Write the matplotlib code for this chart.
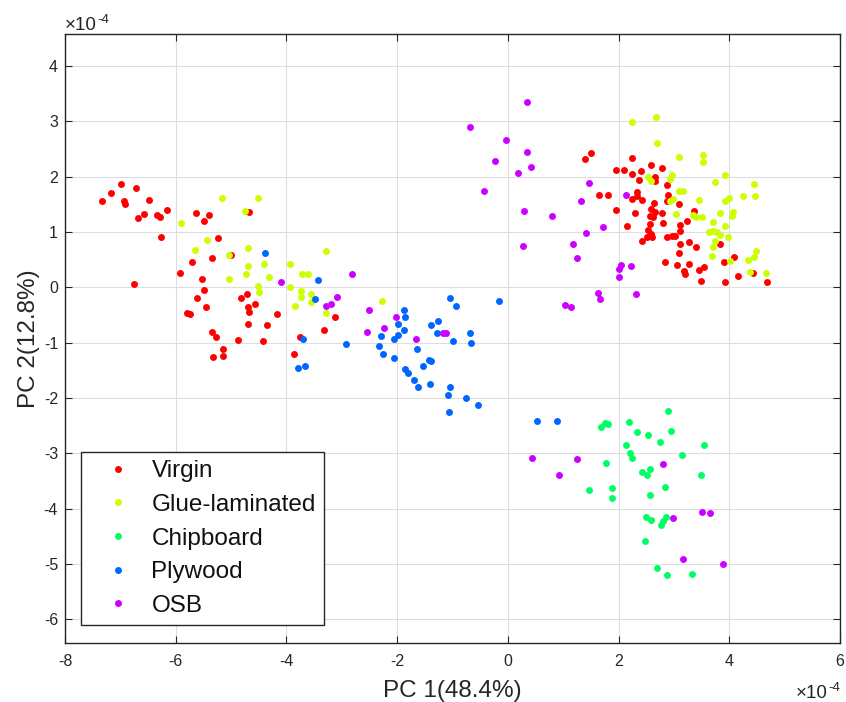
import numpy as np
import matplotlib
matplotlib.use("Agg")
import matplotlib.pyplot as plt

plt.rcParams.update({"font.family": ["Liberation Sans", "DejaVu Sans"],
                     "axes.unicode_minus": False})

# PCA scores, units of 1e-4
virgin_x = [-7.33, -7.17, -6.99, -6.72, -6.93, -6.92, -6.48, -6.69, -6.57, -6.34, -6.28, -6.15,
            -6.27, -5.64, -5.39, -5.49, -4.67, -5.24, -6.75, -5.35, -5.00, -5.71, -5.92, -5.53,
            -5.49, -5.62, -5.45, -5.80, -5.74, -4.82, -4.71, -4.70, -4.67, -4.56, -4.17, -4.70,
            -4.36, -5.35, -5.28, -4.87, -4.42, -5.15, -5.33, -5.15, -3.13, -3.33, -3.76, -3.87,
            1.39, 1.51, 2.24, 1.95, 2.10, 2.25, 2.36, 1.65, 1.80, 1.95, 2.30, 2.15, 2.25, 2.33,
            2.40, 2.58, 2.79, 2.66, 2.65, 2.34, 2.42, 2.64, 2.58, 2.65, 2.57, 2.62, 2.78, 2.87,
            2.90, 2.87, 3.09, 2.57, 2.54, 2.59, 2.42, 2.51, 2.61, 2.81, 3.11, 3.23, 3.11, 3.36,
            2.87, 2.96, 3.02, 3.11, 3.27, 3.39, 3.09, 2.84, 3.05, 3.28, 3.18, 3.20, 3.45, 3.55,
            3.49, 3.83, 3.91, 4.08, 3.92, 4.15, 4.43, 4.69]
virgin_y = [1.56, 1.71, 1.86, 1.80, 1.55, 1.50, 1.58, 1.25, 1.32, 1.31, 1.27, 1.40,
            0.91, 1.34, 1.31, 1.20, 1.35, 0.88, 0.06, 0.52, 0.58, 0.45, 0.25, 0.15,
            -0.05, -0.20, -0.36, -0.46, -0.49, -0.20, -0.13, -0.36, -0.45, -0.31, -0.48, -0.66,
            -0.69, -0.81, -0.90, -0.95, -0.98, -1.11, -1.26, -1.25, -0.54, -0.78, -0.90, -1.21,
            2.31, 2.42, 2.34, 2.11, 2.11, 2.04, 1.94, 1.67, 1.67, 1.40, 1.34, 1.11, 1.59, 1.72,
            2.10, 2.20, 2.15, 1.92, 2.00, 1.64, 1.58, 1.52, 1.41, 1.35, 1.29, 1.26, 1.34, 1.84,
            1.66, 1.55, 1.51, 1.14, 1.03, 0.96, 0.84, 0.90, 0.90, 1.16, 1.13, 1.19, 1.02, 1.37,
            0.91, 0.92, 0.93, 0.78, 0.81, 0.73, 0.61, 0.45, 0.40, 0.42, 0.29, 0.23, 0.31, 0.36,
            0.12, 0.78, 0.45, 0.54, 0.09, 0.21, 0.25, 0.09]

glue_x = [-5.17, -4.52, -4.74, -5.91, -5.44, -5.65, -5.04, -4.70, -4.70, -4.73, -5.04, -4.40,
          -4.32, -4.52, -4.50, -3.94, -3.29, -3.72, -3.61, -3.93, -3.73, -3.73, -3.56, -3.85,
          -3.56, -3.28, -2.27,
          2.24, 2.68, 2.69, 3.10, 3.52, 3.52, 2.54, 2.58, 2.92, 2.96, 3.10, 3.17, 2.93, 2.98,
          3.45, 3.75, 3.92, 4.45, 4.25, 4.46, 3.92, 3.99, 3.83, 4.06, 4.05, 3.03, 3.35, 3.40,
          3.51, 3.71, 3.92, 3.63, 3.71, 3.78, 3.83, 3.98, 3.74, 3.71, 3.69, 4.49, 4.44, 4.34,
          4.01, 4.38, 4.67]
glue_y = [1.61, 1.62, 1.38, 1.16, 0.85, 0.68, 0.59, 0.71, 0.39, 0.23, 0.15, 0.41,
          0.19, 0.02, -0.09, 0.41, 0.66, 0.23, 0.23, 0.00, -0.06, -0.17, -0.12, -0.34,
          -0.27, -0.46, -0.25,
          2.99, 3.07, 2.61, 2.36, 2.38, 2.27, 1.99, 1.92, 1.96, 2.03, 1.73, 1.73, 1.56, 1.59,
          1.57, 1.90, 2.02, 1.86, 1.65, 1.65, 1.55, 1.61, 1.34, 1.36, 1.29, 1.32, 1.31, 1.27,
          1.26, 1.17, 1.10, 1.00, 1.02, 1.00, 0.94, 0.91, 0.84, 0.72, 0.57, 0.66, 0.55, 0.49,
          0.48, 0.28, 0.25]

chip_x = [2.89, 1.69, 1.76, 1.80, 2.18, 2.33, 2.53, 2.74, 2.95, 2.13, 2.20, 2.24, 3.54, 3.14,
          1.78, 2.42, 2.56, 2.51, 3.49, 1.46, 1.89, 1.88, 2.84, 2.56, 2.49, 2.58, 2.86, 2.81,
          2.77, 2.48, 2.69, 2.88, 3.33]
chip_y = [-2.23, -2.52, -2.45, -2.47, -2.44, -2.62, -2.68, -2.79, -2.59, -2.85, -3.00, -3.09,
          -2.86, -3.04, -3.18, -3.34, -3.28, -3.40, -3.40, -3.67, -3.63, -3.81, -3.61, -3.75,
          -4.15, -4.20, -4.15, -4.22, -4.29, -4.59, -5.07, -5.20, -5.19]

ply_x = [-4.39, -3.43, -3.49, -3.70, -3.79, -3.67, -2.92, -1.05, -0.93, -0.16, -1.88, -1.85,
         -1.99, -1.88, -1.99, -2.05, -2.30, -2.33, -2.26, -2.05, -1.39, -1.26, -1.28, -0.99,
         -0.69, -0.67, -1.65, -1.85, -1.80, -1.69, -1.63, -1.53, -1.43, -1.38, -1.41, -1.05,
         -1.08, -1.07, -0.75, -0.54, 0.53, 0.88]
ply_y = [0.61, 0.13, -0.22, -0.94, -1.46, -1.42, -1.03, -0.20, -0.34, -0.25, -0.42, -0.53,
         -0.66, -0.77, -0.86, -0.94, -0.89, -1.06, -1.21, -1.28, -0.69, -0.62, -0.83, -0.98,
         -0.83, -1.00, -1.12, -1.48, -1.55, -1.67, -1.80, -1.43, -1.32, -1.34, -1.75, -1.80,
         -1.94, -2.25, -2.00, -2.12, -2.42, -2.42]

osb_x = [-4.10, -2.81, -3.08, -3.19, -3.29, -2.50, -2.54, -2.23, -2.02, -1.66, -1.18, -1.11,
         0.35, -0.69, -0.04, 0.35, -0.24, 0.41, 0.18, -0.44, 1.46, 1.32, 0.30, 0.80, 1.71,
         1.42, 1.18, 1.25, 0.28, 2.04, 2.01, 2.22, 2.01, 2.32, 1.63, 1.67, 1.03, 1.14, 2.14,
         0.44, 1.25, 0.92, 2.81, 2.98, 3.51, 3.65, 3.16, 3.89]
osb_y = [0.10, 0.24, -0.17, -0.30, -0.34, -0.42, -0.81, -0.73, -0.54, -0.94, -0.82, -0.82,
         3.34, 2.89, 2.66, 2.44, 2.28, 2.17, 2.06, 1.73, 1.89, 1.55, 1.38, 1.29, 1.09,
         0.98, 0.78, 0.52, 0.75, 0.40, 0.32, 0.39, 0.18, -0.12, -0.10, -0.22, -0.32, -0.35, 1.67,
         -3.09, -3.11, -3.40, -3.19, -4.17, -4.06, -4.08, -4.92, -5.01]

groups = ["Virgin", "Glue-laminated", "Chipboard", "Plywood", "OSB"]
xs = [virgin_x, glue_x, chip_x, ply_x, osb_x]
ys = [virgin_y, glue_y, chip_y, ply_y, osb_y]
colors = ["#ff0000", "#ccff00", "#00ff66", "#0066ff", "#cc00ff"]  # hsv(5)
INK = "#262626"

fig = plt.figure(figsize=(8.46, 7.02), dpi=100)
ax = fig.add_axes([65 / 846, 1 - 643 / 702, 775 / 846, 608.7 / 702])

for name, x, y, c in zip(groups, xs, ys, colors):
    ax.plot(x, y, "o", ms=5, mew=0, color=c, label=name)

ax.set_xlim(-8, 6); ax.set_ylim(-6.43, 4.57)
ax.set_xticks(np.arange(-8, 7, 2)); ax.set_yticks(np.arange(-6, 5, 1))
ax.grid(color="#dedede", lw=0.8); ax.set_axisbelow(True)
for s in ax.spines.values():
    s.set_color(INK); s.set_linewidth(1.0)
ax.tick_params(direction="in", top=True, right=True, length=5, width=0.8,
               color=INK, labelsize=11.5, labelcolor=INK)
ax.tick_params(axis="x", pad=8); ax.tick_params(axis="y", pad=5)

ax.set_xlabel("PC 1(48.4%)", fontsize=17.5, color=INK, labelpad=8)
ax.set_ylabel("PC 2(12.8%)", fontsize=17.5, color=INK, labelpad=3)

# exponent labels, MATLAB style
def expo(x, y):
    fig.text(x / 846, 1 - y / 702, "×10", fontsize=13.5, color=INK, va="baseline")
    fig.text((x + 32) / 846, 1 - (y - 7) / 702, "-4", fontsize=9.5, color=INK, va="baseline")
expo(65, 30)
expo(796, 698)

leg = ax.legend(loc="lower left", bbox_to_anchor=(16 / 775, 18 / 608.7), borderaxespad=0,
                fontsize=17.5, handlelength=2.35, handletextpad=0.22, labelspacing=0.48,
                borderpad=0.33, fancybox=False, framealpha=1)
leg.get_frame().set_edgecolor(INK); leg.get_frame().set_linewidth(1.0)
for t in leg.get_texts():
    t.set_color("#111111")

fig.savefig("out.png", dpi=100)
